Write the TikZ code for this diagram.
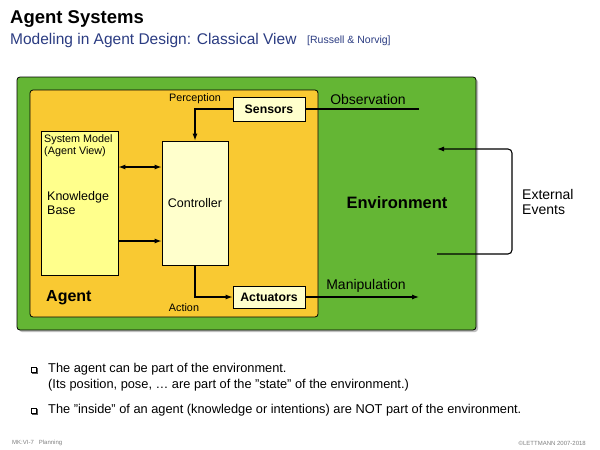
\documentclass[tikz,border=0pt]{standalone}
\usepackage{fontspec}
\setmainfont{Liberation Sans}
\usetikzlibrary{arrows.meta}
\definecolor{envgreen}{HTML}{64B634}
\definecolor{agentorange}{HTML}{F9C932}
\definecolor{kbyellow}{HTML}{FFFF8C}
\definecolor{ctrlyellow}{HTML}{FFFFCC}
\definecolor{subblue}{HTML}{2B3C82}
\newcommand{\fs}[1]{\fontsize{#1}{#1}\selectfont}
\tikzset{
  box/.style={draw=black, line width=0.8pt, inner sep=0pt, anchor=center},
  arr/.style={line width=1.1pt, -{Latex[length=7pt,width=5pt]}},
  darr/.style={line width=1.1pt, {Latex[length=7pt,width=5pt]}-{Latex[length=7pt,width=5pt]}},
  lbl/.style={inner sep=0pt, font=\fs{10.8}},
  big/.style={inner sep=0pt, font=\fs{14}},
  bul/.style={inner sep=0pt, anchor=west, font=\fs{12.8}},
  foot/.style={inner sep=0pt, font=\fs{6}, text=gray},
}
\begin{document}
\begin{tikzpicture}[x=1pt,y=-1pt]
\useasboundingbox[fill=white] (0,0) rectangle (600,450);
% title
\node[inner sep=0pt, anchor=west, font=\fs{18.5}\bfseries] (title) at (10,19) {Agent Systems};
\node[inner sep=0pt, anchor=west, font=\fs{15.5}, text=subblue] (sub) at (10,40.5) {Modeling in Agent Design: Classical View};
\node[inner sep=0pt, anchor=west, font=\fs{10.5}, text=subblue] (ref) at (307,41) {[Russell \& Norvig]};
% environment
\fill[gray!50, rounded corners=3pt] (19,79) rectangle (478,332);
\node[box, fill=envgreen, rounded corners=3pt, minimum width=459pt, minimum height=253pt] (env) at (246.5,203.5) {};
\node[box, fill=agentorange, rounded corners=3pt, minimum width=288pt, minimum height=227pt] (agent) at (174,203.5) {};
\node[box, fill=ctrlyellow, minimum width=72pt, minimum height=24pt, font=\fs{12.3}\bfseries] (sensors) at (269,109) {Sensors};
\node[box, fill=ctrlyellow, minimum width=72pt, minimum height=22pt, font=\fs{12.3}\bfseries] (act) at (269,297) {Actuators};
\node[box, fill=kbyellow, minimum width=77pt, minimum height=144pt] (kb) at (79.5,203) {};
\node[box, fill=ctrlyellow, minimum width=66pt, minimum height=124pt, font=\fs{12.5}] (ctrl) at (195,203) {Controller};
\node[inner sep=0pt, anchor=north west, align=left, font=\fs{10.8}] (sysmodel) at (44,134) {System Model\\[1.5pt](Agent View)};
\node[inner sep=0pt, anchor=west, align=left, font=\fs{12.5}] (kbtext) at (47,203) {Knowledge\\[2pt]Base};
\node[lbl] (perc) at (195,99) {Perception};
\node[lbl] (action) at (184,308) {Action};
\node[inner sep=0pt, anchor=west, font=\fs{16}\bfseries] (agentlbl) at (46,298) {Agent};
\node[inner sep=0pt, font=\fs{16.5}\bfseries] (envlbl) at (397,203) {Environment};
% connectors
\draw[darr] ([yshift=36pt]kb.east) -- ([yshift=36pt]ctrl.west);
\draw[arr] ([yshift=-38pt]kb.east) -- ([yshift=-38pt]ctrl.west);
\draw[arr] (sensors.west) -| (ctrl.north);
\draw[arr] (ctrl.south) |- (act.west);
\coordinate (obsend) at (419,109);
\coordinate (manend) at (419,297);
\draw[line width=1.1pt] (sensors.east) -- (obsend);
\draw[arr] (act.east) -- (manend);
\node[big, anchor=south] (obs) at (368,104.5) {Observation};
\node[big, anchor=south] (manip) at (366,293) {Manipulation};
\coordinate (evbot) at (437,254);
\coordinate (evtop) at (437,149);
\draw[arr, rounded corners=4pt] (evbot) -- ++(75,0) |- (evtop);
\node[big, anchor=west, align=left] (ext) at (522,202) {External\\[1pt]Events};
% bullets
\foreach \yy/\nm in {369.5/b1,410.5/b2}{
  \fill[gray!70!black] (32,\yy-1.5) rectangle (37.5,\yy+4);
  \draw[black, line width=0.6pt, fill=white] (31,\yy-2.5) rectangle (36,\yy+2.5);
}
\node[bul] (t1) at (48,369.5) {The agent can be part of the environment.};
\node[bul] (t2) at (48,385.5) {(Its position, pose, \ldots\ are part of the "state" of the environment.)};
\node[bul] (t3) at (48,410.5) {The "inside" of an agent (knowledge or intentions) are NOT part of the environment.};
% footer
\node[foot, anchor=west] (f1) at (12,443) {MK:VI-7\hspace{5pt}Planning};
\node[foot, anchor=east] (f2) at (586,443) {©LETTMANN 2007-2018};
\end{tikzpicture}
\end{document}
